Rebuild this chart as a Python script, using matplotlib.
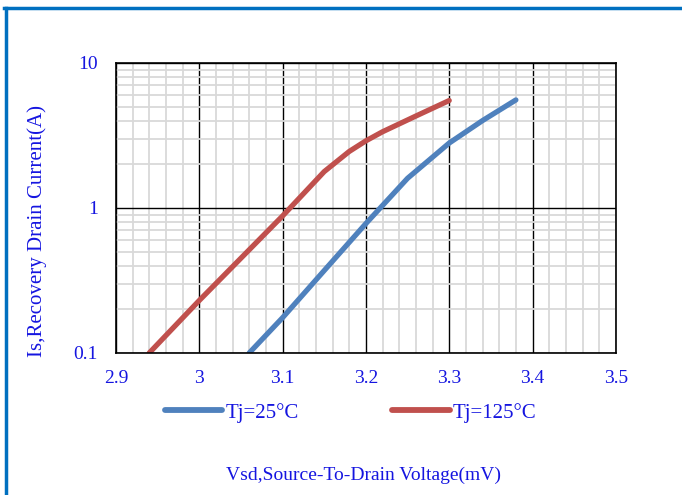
import numpy as np
import matplotlib.pyplot as plt
from matplotlib.ticker import FixedLocator, NullFormatter
from matplotlib.lines import Line2D

# data
vsd_25 = [3.06, 3.10, 3.15, 3.20, 3.25, 3.30, 3.34, 3.38]
is_25 = [0.10, 0.175, 0.37, 0.78, 1.6, 2.8, 4.0, 5.55]

vsd_125 = [2.94, 3.00, 3.05, 3.10, 3.15, 3.18, 3.20, 3.22, 3.26, 3.30]
is_125 = [0.10, 0.23, 0.45, 0.88, 1.78, 2.45, 2.9, 3.35, 4.3, 5.5]

xticks = [2.9, 3.0, 3.1, 3.2, 3.3, 3.4, 3.5]
xticklabels = ['2.9', '3', '3.1', '3.2', '3.3', '3.4', '3.5']
yticks = [0.1, 1, 10]
yticklabels = ['0.1', '1', '10']

plt.rcParams['font.family'] = ['Liberation Serif', 'DejaVu Serif']
txtc = '#1515E0'
c25 = '#4F81BD'
c125 = '#C0504D'

fig = plt.figure(figsize=(6.82, 4.95), dpi=100)
ax = fig.add_axes([0.170, 0.287, 0.733, 0.586])

# grid
minx = np.arange(2.9, 3.5001, 0.02)
ax.xaxis.set_minor_locator(FixedLocator(minx))
ax.grid(True, which='minor', color='#D9D9D9', linewidth=1.3)
ax.grid(True, which='major', color='black', linewidth=1.0)
ax.set_axisbelow(True)

ax.plot(vsd_25, is_25, color=c25, linewidth=3.8, solid_capstyle='round',
        solid_joinstyle='round')
ax.plot(vsd_125, is_125, color=c125, linewidth=3.8, solid_capstyle='round',
        solid_joinstyle='round')

ax.set_yscale('log')
ax.set_xlim(2.9, 3.5)
ax.set_ylim(0.1, 10)
ax.set_yticks(yticks)
ax.set_yticklabels(yticklabels)
ax.yaxis.set_minor_formatter(NullFormatter())
ax.set_xticks(xticks)
ax.set_xticklabels(xticklabels)
ax.tick_params(which='both', length=0, labelsize=14, labelcolor=txtc)
ax.tick_params(axis='x', pad=12)
ax.tick_params(axis='y', pad=13)
for s in ax.spines.values():
    s.set_color('black')
    s.set_linewidth(1.2)

fig.text(37 / 682, 1 - 231 / 495, 'Is,Recovery Drain Current(A)', fontsize=15,
         color=txtc, ha='center', va='center', rotation=90)
fig.text(364 / 682, 1 - 475 / 495, 'Vsd,Source-To-Drain Voltage(mV)', fontsize=14,
         color=txtc, ha='center', va='center')

# legend
handles = [Line2D([], [], color=c25, linewidth=4.2, solid_capstyle='round'),
           Line2D([], [], color=c125, linewidth=4.2, solid_capstyle='round')]
leg = fig.legend(handles, ['Tj=25°C', 'Tj=125°C'], loc='center',
                 bbox_to_anchor=(0.514, 0.166), ncol=2, frameon=False,
                 fontsize=15, handlelength=2.75, handletextpad=0.15,
                 columnspacing=4.5)
for t in leg.get_texts():
    t.set_color(txtc)

# blue frame (top and left edges)
fig.add_artist(Line2D([0.006, 1.0], [0.984, 0.984], color='#0070C0',
                      linewidth=2.5, transform=fig.transFigure))
fig.add_artist(Line2D([0.009, 0.009], [0.0, 0.984], color='#0070C0',
                      linewidth=2.5, transform=fig.transFigure))

plt.savefig('out.png', dpi=100)
